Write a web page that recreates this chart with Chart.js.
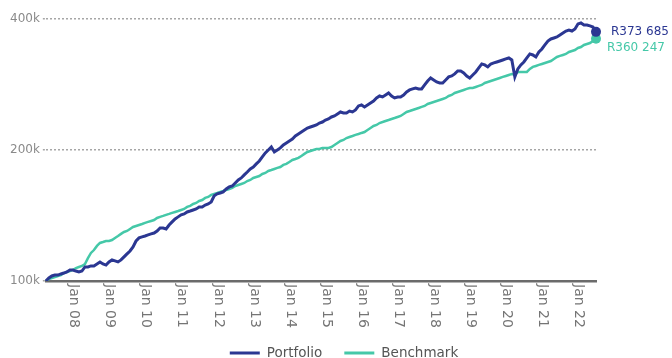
<!DOCTYPE html>
<html>
<head>
<meta charset="utf-8">
<script src="https://cdn.jsdelivr.net/npm/chart.js@4"></script>
<style>
  html, body { margin: 0; padding: 0; background: #fff; }
  #wrap { width: 672px; height: 358px; }
</style>
</head>
<body>
<div id="wrap"><canvas id="growthChart" width="672" height="358"></canvas></div>
<script>
// month-end values of R100 000 invested, in thousands (first month: Apr 07)
const firstMonth = { month: 3, year: 7 };
const monthNames = ['Jan', 'Feb', 'Mar', 'Apr', 'May', 'Jun', 'Jul', 'Aug', 'Sep', 'Oct', 'Nov', 'Dec'];

const portfolio = [
    100, 101.6, 102.7, 103.2, 103.2, 103.8, 104.3, 104.9, 106.0, 106.0, 105.4, 104.9,
    105.4, 107.7, 107.7, 108.3, 108.3, 109.4, 110.6, 109.4, 108.8, 110.6, 111.8, 111.2,
    110.6, 111.8, 113.6, 115.4, 117.2, 119.8, 123.6, 125.6, 126.3, 126.9, 127.6, 128.3,
    128.9, 130.3, 132.4, 132.4, 131.7, 134.5, 136.7, 138.9, 140.4, 141.9, 142.6, 144.1,
    144.8, 145.6, 146.4, 148.0, 148.0, 149.5, 150.3, 151.9, 156.9, 158.6, 159.3, 160.2,
    162.7, 164.5, 165.3, 168.0, 170.7, 172.5, 175.3, 178.0, 180.9, 182.8, 185.8, 188.7,
    192.8, 196.9, 200.0, 203.2, 197.9, 200.0, 202.2, 205.4, 207.6, 209.8, 212.0, 215.4,
    217.7, 220.0, 222.3, 224.7, 225.9, 227.1, 228.3, 230.7, 231.9, 234.4, 235.7, 238.2,
    239.5, 242.0, 244.6, 243.3, 243.3, 245.8, 244.6, 247.2, 252.5, 253.8, 251.2, 253.8,
    256.5, 259.2, 263.4, 266.2, 264.8, 267.6, 270.4, 266.2, 263.4, 264.8, 264.8, 267.6,
    271.9, 274.8, 276.3, 277.7, 276.3, 276.3, 282.2, 288.1, 292.8, 289.7, 286.6, 285.1,
    285.1, 289.7, 294.4, 295.9, 299.1, 303.8, 303.8, 300.6, 295.9, 292.8, 297.5, 302.2,
    308.7, 315.3, 313.7, 310.4, 315.3, 317.0, 318.6, 320.3, 322.0, 323.8, 325.5, 322.0,
    294.4, 307.1, 313.7, 318.6, 325.5, 332.5, 330.7, 327.2, 335.9, 341.4, 348.7, 356.0,
    359.9, 361.8, 363.7, 367.6, 371.5, 375.4, 377.4, 375.4, 379.5, 389.7, 391.7, 387.6,
    387.6, 385.6, 383.5, 373.685
];

const benchmark = [
    100, 101.1, 101.6, 102.1, 102.7, 103.2, 104.3, 104.9, 105.4, 106.0, 107.1, 107.7,
    108.3, 109.4, 112.9, 116.0, 117.8, 120.4, 122.3, 122.9, 123.6, 123.6, 124.2, 125.6,
    126.9, 128.3, 129.6, 130.3, 131.7, 133.1, 133.8, 134.5, 135.2, 136.0, 136.7, 137.4,
    138.1, 139.6, 140.4, 141.1, 141.9, 142.6, 143.4, 144.1, 144.8, 145.6, 146.4, 148.0,
    148.8, 150.3, 151.1, 152.7, 153.5, 155.2, 156.0, 157.7, 158.6, 159.3, 160.2, 161.0,
    161.9, 162.7, 163.6, 165.3, 166.2, 167.1, 168.0, 169.7, 170.7, 172.5, 173.4, 174.3,
    176.2, 177.1, 179.0, 179.9, 180.9, 181.9, 182.8, 184.8, 185.8, 187.7, 189.7, 190.7,
    191.8, 193.8, 195.9, 197.9, 198.9, 200.0, 201.1, 201.1, 202.2, 202.2, 202.2, 203.2,
    205.4, 207.6, 209.8, 210.9, 213.1, 214.3, 215.4, 216.6, 217.7, 218.9, 220.0, 222.3,
    224.7, 227.1, 228.3, 230.7, 231.9, 233.2, 234.4, 235.7, 236.9, 238.2, 239.5, 242.0,
    244.6, 245.8, 247.2, 248.5, 249.8, 251.2, 252.5, 255.2, 256.5, 257.9, 259.2, 260.6,
    262.0, 263.4, 266.2, 267.6, 270.4, 271.9, 273.3, 274.8, 276.3, 277.7, 277.7, 279.2,
    280.7, 282.2, 285.1, 286.6, 288.1, 289.7, 291.2, 292.8, 294.4, 295.9, 297.5, 299.1,
    298.0, 302.2, 302.2, 302.2, 302.2, 307.1, 310.4, 312.0, 313.7, 315.3, 317.0, 318.6,
    320.3, 323.8, 327.2, 329.0, 330.7, 332.5, 335.9, 337.7, 339.5, 343.1, 344.9, 348.7,
    350.5, 352.3, 356.0, 360.247
];

const xTickLabels = ['Jan 08', 'Jan 09', 'Jan 10', 'Jan 11', 'Jan 12', 'Jan 13', 'Jan 14',
    'Jan 15', 'Jan 16', 'Jan 17', 'Jan 18', 'Jan 19', 'Jan 20', 'Jan 21', 'Jan 22'];
const yTicks = [100, 200, 400];

const FONT = 'DejaVu Sans';
const BLUE = '#2b3792';
const TEAL = '#45c8a8';

const months = [];
for (let i = 0; i < portfolio.length; i++) {
    const m = firstMonth.month + i;
    const yr = firstMonth.year + Math.floor(m / 12);
    months.push(monthNames[m % 12] + ' ' + String(yr).padStart(2, '0'));
}

function formatRand(k) {
    const n = Math.round(k * 1000);
    return 'R' + String(n).replace(/\B(?=(\d{3})+(?!\d))/g, ' ');
}

// end dot only on the last month
function lastPointRadius(ctx) {
    return ctx.dataIndex === ctx.dataset.data.length - 1 ? 5 : 0;
}

// rotated x labels, bottom legend and closing value labels
const decorPlugin = {
    id: 'decor',
    afterDatasetsDraw(chart) {
        const ctx = chart.ctx;
        const offsets = [{ dx: 15, dy: 0 }, { dx: 11, dy: 9 }];
        ctx.save();
        ctx.font = '12px "' + FONT + '"';
        ctx.textAlign = 'left';
        ctx.textBaseline = 'middle';
        chart.data.datasets.forEach((ds, i) => {
            const meta = chart.getDatasetMeta(i);
            const pt = meta.data[meta.data.length - 1];
            ctx.fillStyle = ds.borderColor;
            ctx.fillText(formatRand(ds.data[ds.data.length - 1]), pt.x + offsets[i].dx, pt.y + offsets[i].dy);
        });
        ctx.restore();
    },
    afterDraw(chart) {
        const ctx = chart.ctx;
        const xScale = chart.scales.x;
        const area = chart.chartArea;

        ctx.save();
        ctx.font = '14px "' + FONT + '"';
        ctx.fillStyle = '#757575';
        ctx.textAlign = 'left';
        ctx.textBaseline = 'middle';
        xTickLabels.forEach(label => {
            const idx = months.indexOf(label);
            if (idx < 0) return;
            const x = xScale.getPixelForValue(idx);
            ctx.save();
            ctx.translate(x + 1, area.bottom + 3);
            ctx.rotate(Math.PI / 2);
            ctx.fillText(label, 0, 0);
            ctx.restore();
        });

        // legend
        ctx.font = '13.5px "' + FONT + '"';
        const lineW = 30, gap = 7, spacing = 22;
        const items = chart.data.datasets.map(ds => ({
            text: ds.label, color: ds.borderColor, w: ctx.measureText(ds.label).width
        }));
        let total = 0;
        items.forEach((it, i) => { total += lineW + gap + it.w + (i ? spacing : 0); });
        let x = (chart.width - total) / 2 + 8;
        const y = 353;
        items.forEach(it => {
            ctx.strokeStyle = it.color;
            ctx.lineWidth = 3;
            ctx.beginPath();
            ctx.moveTo(x, y);
            ctx.lineTo(x + lineW, y);
            ctx.stroke();
            ctx.fillStyle = '#555';
            ctx.fillText(it.text, x + lineW + gap, y);
            x += lineW + gap + it.w + spacing;
        });
        ctx.restore();
    }
};

new Chart(document.getElementById('growthChart'), {
    type: 'line',
    data: {
        labels: months,
        datasets: [
            {
                label: 'Portfolio',
                data: portfolio,
                borderColor: BLUE,
                backgroundColor: BLUE,
                borderWidth: 3,
                pointRadius: lastPointRadius,
                pointBorderWidth: 0,
                tension: 0
            },
            {
                label: 'Benchmark',
                data: benchmark,
                borderColor: TEAL,
                backgroundColor: TEAL,
                borderWidth: 2.5,
                pointRadius: lastPointRadius,
                pointBorderWidth: 0,
                tension: 0
            }
        ]
    },
    options: {
        responsive: false,
        animation: false,
        devicePixelRatio: 1,
        layout: { padding: { top: 19, right: 76, left: 7, bottom: 0 } },
        plugins: {
            legend: { display: false },
            tooltip: { enabled: false }
        },
        scales: {
            x: {
                grid: { display: false },
                border: { display: true, color: '#6b6b6b', width: 2.5 },
                ticks: { display: false },
                afterFit: s => { s.height = 77; }
            },
            y: {
                type: 'logarithmic',
                position: 'left',
                min: 100,
                max: 400,
                afterBuildTicks: s => { s.ticks = yTicks.map(v => ({ value: v })); },
                ticks: {
                    callback: v => v + 'k',
                    color: '#8a8a8a',
                    font: { family: FONT, size: 12 },
                    padding: 3
                },
                grid: {
                    color: '#a6a6a6',
                    lineWidth: 1.5,
                    tickLength: 3,
                    tickBorderDash: [2, 2]
                },
                border: { display: false, dash: [2, 2] }
            }
        }
    },
    plugins: [decorPlugin]
});
</script>
</body>
</html>
